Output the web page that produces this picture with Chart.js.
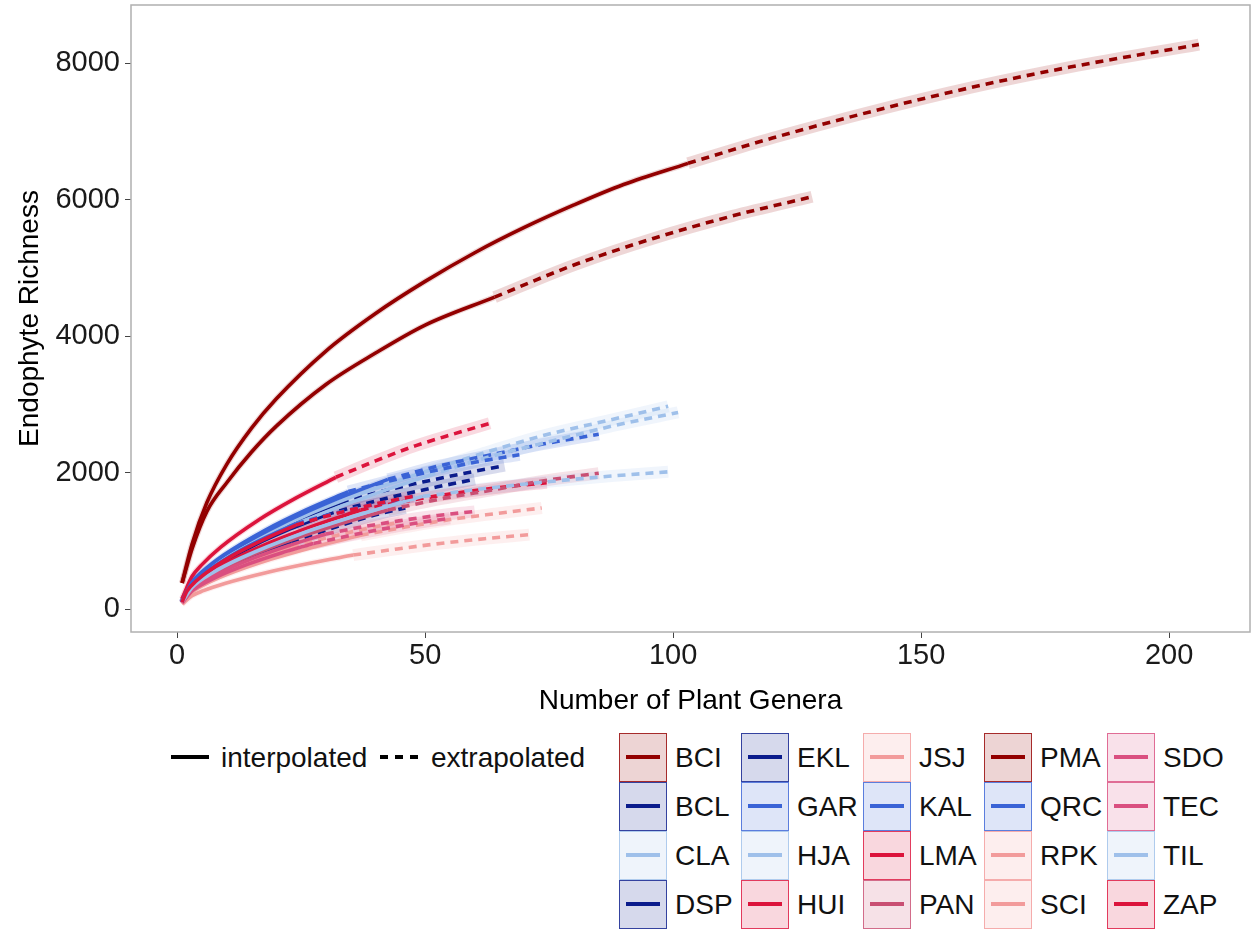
<!DOCTYPE html>
<html>
<head>
<meta charset="utf-8">
<script src="https://cdn.jsdelivr.net/npm/chart.js@4.4.1/dist/chart.umd.min.js"></script>
<style>
html,body{margin:0;padding:0;background:#fff;}
#wrap{position:relative;width:1252px;height:930px;overflow:hidden;font-family:"Liberation Sans",Arial,Helvetica,sans-serif;color:#000;}
#c{position:absolute;left:0;top:0;}
.lg{position:absolute;font-size:28px;line-height:30px;white-space:nowrap;color:#111;}
.box{position:absolute;box-sizing:border-box;width:48px;height:49px;border:1.5px solid;}
.box i{position:absolute;left:6px;right:6px;top:21px;height:3.5px;display:block;}
.seg{position:absolute;height:4px;background:#000;}
</style>
</head>
<body>
<div id="wrap">
<canvas id="c" width="1252" height="722"></canvas>
<div id="legend"></div>
</div>
<script>
// ---------------- data ----------------
const siteNames = ['BCI','BCL','CLA','DSP','EKL','GAR','HJA','HUI','JSJ','KAL','LMA','PAN','PMA','QRC','RPK','SCI','SDO','TEC','TIL','ZAP'];
const siteColors = ['#930000','#0B1C8C','#9FC0EA','#0B1C8C','#0B1C8C','#3A63D6','#9FC0EA','#DC143C','#F29B9B','#3A63D6','#DC143C','#C94F73','#930000','#3A63D6','#F29B9B','#F29B9B','#DA4F80','#DA4F80','#9FC0EA','#DC143C'];
const xTicks = [0, 50, 100, 150, 200];
const yTicks = [0, 2000, 4000, 6000, 8000];
const lineTypes = ['interpolated', 'extrapolated'];

// interpolated (ix, iy) and extrapolated (ex, ey) segments per site
const BCI_ix = [1, 3, 6, 10, 15, 20, 30, 40, 50, 60, 70, 80, 90, 103];
const BCI_iy = [380, 950, 1560, 2120, 2650, 3080, 3780, 4330, 4800, 5220, 5590, 5920, 6220, 6530];
const BCI_ex = [103, 120, 140, 160, 180, 206];
const BCI_ey = [6530, 6900, 7290, 7640, 7940, 8270];

const PMA_ix = [1, 3, 6, 10, 15, 20, 30, 40, 50, 64];
const PMA_iy = [380, 880, 1430, 1850, 2300, 2680, 3290, 3750, 4160, 4570];
const PMA_ex = [64, 80, 96, 112, 128];
const PMA_ey = [4570, 5040, 5430, 5760, 6040];

const CLA_ix = [1, 3, 7, 13, 25, 37, 49.5];
const CLA_iy = [110, 371, 630, 910, 1340, 1690, 2000];
const CLA_ex = [49.5, 62, 74, 87, 99];
const CLA_ey = [2000, 2290, 2545, 2765, 2970];

const HJA_ix = [1, 3, 7, 13, 25.8, 38, 50.5];
const HJA_iy = [100, 352, 605, 877, 1300, 1640, 1950];
const HJA_ex = [50.5, 63, 76, 88, 101];
const HJA_ey = [1950, 2230, 2470, 2685, 2880];

const TIL_ix = [1, 3, 7, 13, 25, 37, 49.5];
const TIL_iy = [100, 314, 525, 751, 1103, 1388, 1650];
const TIL_ex = [49.5, 62, 74, 87, 99];
const TIL_ey = [1650, 1765, 1860, 1945, 2010];

const GAR_ix = [1, 3, 6.2, 11.4, 21.8, 32, 42.5];
const GAR_iy = [110, 384, 604, 867, 1275, 1605, 1900];
const GAR_ex = [42.5, 53, 64, 74, 85];
const GAR_ey = [1900, 2100, 2270, 2420, 2560];

const KAL_ix = [1, 3, 5.2, 9.4, 17.8, 26, 34.5];
const KAL_iy = [110, 390, 554, 791, 1158, 1453, 1720];
const KAL_ex = [34.5, 43, 52, 60, 69];
const KAL_ey = [1720, 1880, 2030, 2150, 2260];

const QRC_ix = [1, 2, 3.9, 6.8, 12.5, 18.3, 24];
const QRC_iy = [100, 264, 419, 589, 849, 1064, 1250];
const QRC_ex = [24, 30, 36, 42, 48];
const QRC_ey = [1250, 1370, 1475, 1565, 1650];

const BCL_ix = [1, 3, 5, 9, 17, 25, 33];
const BCL_iy = [100, 361, 503, 718, 1050, 1322, 1560];
const BCL_ex = [33, 41, 49.5, 58, 66];
const BCL_ey = [1560, 1720, 1860, 1990, 2100];

const DSP_ix = [1, 3, 4.6, 8.3, 15.5, 22.8, 30];
const DSP_iy = [100, 343, 451, 644, 933, 1173, 1380];
const DSP_ex = [30, 37.5, 45, 52.5, 60];
const DSP_ey = [1380, 1535, 1670, 1790, 1900];

const EKL_ix = [1, 2, 3.8, 6.5, 12, 17.5, 23];
const EKL_iy = [90, 221, 337, 466, 669, 835, 980];
const EKL_ex = [23, 29, 34.5, 40, 46];
const EKL_ey = [980, 1130, 1260, 1380, 1480];

const HUI_ix = [1, 3, 4.9, 8.8, 16.5, 24, 32];
const HUI_iy = [150, 476, 643, 907, 1309, 1629, 1930];
const HUI_ex = [32, 40, 48, 56, 63];
const HUI_ey = [1930, 2170, 2390, 2570, 2720];

const LMA_ix = [1, 3, 5.5, 10, 19, 28, 37];
const LMA_iy = [110, 334, 480, 677, 982, 1232, 1450];
const LMA_ex = [37, 46, 55.5, 65, 74.5];
const LMA_ey = [1450, 1580, 1690, 1780, 1850];

const ZAP_ix = [1, 2, 3.9, 6.8, 12.5, 18.3, 24];
const ZAP_iy = [100, 262, 413, 580, 836, 1047, 1230];
const ZAP_ex = [24, 30, 36, 42, 47.5];
const ZAP_ey = [1230, 1360, 1470, 1570, 1650];

const PAN_ix = [1, 3, 6.2, 11.4, 21.8, 32, 42.5];
const PAN_iy = [100, 307, 473, 671, 979, 1227, 1450];
const PAN_ex = [42.5, 53, 64, 74, 85];
const PAN_ey = [1450, 1610, 1750, 1880, 1990];

const SDO_ix = [1, 3, 4.3, 7.6, 14.3, 21, 27.5];
const SDO_iy = [90, 265, 329, 457, 657, 821, 960];
const SDO_ex = [27.5, 34.4, 41.3, 48, 55];
const SDO_ey = [960, 1070, 1170, 1255, 1330];

const TEC_ix = [1, 3, 4.6, 8.3, 15.5, 22.8, 30];
const TEC_iy = [90, 282, 367, 519, 748, 936, 1100];
const TEC_ex = [30, 37.5, 45, 52.5, 60];
const TEC_ey = [1100, 1205, 1295, 1370, 1430];

const JSJ_ix = [1, 3, 5.3, 9.6, 18.3, 27, 35.5];
const JSJ_iy = [70, 193, 269, 374, 539, 674, 790];
const JSJ_ex = [35.5, 44.4, 53, 62, 71];
const JSJ_ey = [790, 880, 960, 1030, 1090];

const RPK_ix = [1, 3, 5.5, 10, 19, 28, 37];
const RPK_iy = [80, 247, 356, 503, 731, 917, 1080];
const RPK_ex = [37, 46, 55, 64.5, 73.5];
const RPK_ey = [1080, 1200, 1310, 1400, 1480];

const SCI_ix = [1, 2, 3.8, 6.5, 12, 17.5, 23];
const SCI_iy = [80, 201, 308, 427, 614, 766, 900];
const SCI_ex = [23, 28.5, 34, 39.5, 45];
const SCI_ey = [900, 1010, 1110, 1200, 1270];

// table built from the arrays above
const curves = {
  BCI: [BCI_ix, BCI_iy, BCI_ex, BCI_ey], BCL: [BCL_ix, BCL_iy, BCL_ex, BCL_ey],
  CLA: [CLA_ix, CLA_iy, CLA_ex, CLA_ey], DSP: [DSP_ix, DSP_iy, DSP_ex, DSP_ey],
  EKL: [EKL_ix, EKL_iy, EKL_ex, EKL_ey], GAR: [GAR_ix, GAR_iy, GAR_ex, GAR_ey],
  HJA: [HJA_ix, HJA_iy, HJA_ex, HJA_ey], HUI: [HUI_ix, HUI_iy, HUI_ex, HUI_ey],
  JSJ: [JSJ_ix, JSJ_iy, JSJ_ex, JSJ_ey], KAL: [KAL_ix, KAL_iy, KAL_ex, KAL_ey],
  LMA: [LMA_ix, LMA_iy, LMA_ex, LMA_ey], PAN: [PAN_ix, PAN_iy, PAN_ex, PAN_ey],
  PMA: [PMA_ix, PMA_iy, PMA_ex, PMA_ey], QRC: [QRC_ix, QRC_iy, QRC_ex, QRC_ey],
  RPK: [RPK_ix, RPK_iy, RPK_ex, RPK_ey], SCI: [SCI_ix, SCI_iy, SCI_ex, SCI_ey],
  SDO: [SDO_ix, SDO_iy, SDO_ex, SDO_ey], TEC: [TEC_ix, TEC_iy, TEC_ex, TEC_ey],
  TIL: [TIL_ix, TIL_iy, TIL_ex, TIL_ey], ZAP: [ZAP_ix, ZAP_iy, ZAP_ex, ZAP_ey]
};

// ---------------- chart ----------------
const FONT = '"Liberation Sans", Arial, Helvetica, sans-serif';
Chart.defaults.font.family = FONT;

function rgba(hex, a) {
  const n = parseInt(hex.slice(1), 16);
  return `rgba(${(n >> 16) & 255},${(n >> 8) & 255},${n & 255},${a})`;
}
const pts = (xs, ys) => xs.map((x, j) => ({ x: x, y: ys[j] }));

const datasets = [];
siteNames.forEach((s, i) => {
  const [ix, iy, ex, ey] = curves[s];
  const col = siteColors[i];
  const common = { pointRadius: 0, pointHoverRadius: 0, fill: false, cubicInterpolationMode: 'monotone', borderCapStyle: 'butt', borderJoinStyle: 'round' };
  datasets.push(Object.assign({ label: s + ' band ext', data: pts(ex, ey), borderColor: rgba(col, 0.16), borderWidth: 12, order: 300 - i }, common));
  datasets.push(Object.assign({ label: s + ' band int', data: pts(ix, iy), borderColor: rgba(col, 0.16), borderWidth: 6, order: 300 - i }, common));
  datasets.push(Object.assign({ label: s + ' ' + lineTypes[0], data: pts(ix, iy), borderColor: col, borderWidth: 3.6, order: 100 - i }, common));
  datasets.push(Object.assign({ label: s + ' ' + lineTypes[1], data: pts(ex, ey), borderColor: col, borderWidth: 3.6, borderDash: [8, 6], order: 100 - i }, common));
});

const panelBorder = {
  id: 'panelBorder',
  afterDatasetsDraw(chart) {
    const { ctx, chartArea: a } = chart;
    ctx.save();
    ctx.strokeStyle = '#b0b0b0';
    ctx.lineWidth = 1.5;
    ctx.strokeRect(a.left, a.top, a.right - a.left, a.bottom - a.top);
    ctx.restore();
  }
};

const zeroPad = s => { s.paddingTop = 0; s.paddingBottom = 0; s.paddingLeft = 0; s.paddingRight = 0; };

new Chart(document.getElementById('c'), {
  type: 'line',
  data: { datasets: datasets },
  plugins: [panelBorder],
  options: {
    responsive: false,
    animation: false,
    devicePixelRatio: 1,
    layout: { padding: { left: 0, top: 5, right: 2, bottom: 0 } },
    plugins: { legend: { display: false }, tooltip: { enabled: false } },
    scales: {
      x: {
        type: 'linear', min: -9.3, max: 216.3,
        afterBuildTicks: s => { s.ticks = xTicks.map(v => ({ value: v })); },
        afterFit: s => { s.height = 90; zeroPad(s); },
        ticks: { font: { size: 29, family: FONT }, color: '#1a1a1a', padding: 1, maxRotation: 0, autoSkip: false, callback: v => String(v) },
        grid: { drawOnChartArea: false, drawTicks: true, tickLength: 6, tickColor: '#444', color: '#444' },
        border: { display: false },
        title: { display: true, text: 'Number of Plant Genera', color: '#000', font: { size: 28, family: FONT }, padding: { top: 0, bottom: 4 } }
      },
      y: {
        type: 'linear', min: -337, max: 8850,
        afterBuildTicks: s => { s.ticks = yTicks.map(v => ({ value: v })); },
        afterFit: s => { s.width = 131; zeroPad(s); },
        ticks: { font: { size: 29, family: FONT }, color: '#1a1a1a', padding: 5, autoSkip: false, callback: v => String(v) },
        grid: { drawOnChartArea: false, drawTicks: true, tickLength: 6, tickColor: '#444', color: '#444' },
        border: { display: false },
        title: { display: true, text: 'Endophyte Richness', color: '#000', font: { size: 28, family: FONT }, padding: { top: 13, bottom: 0 } }
      }
    }
  }
});

// ---------------- legends (HTML text) ----------------
const lg = document.getElementById('legend');
function add(html) { lg.insertAdjacentHTML('beforeend', html); }

add(`<div class="seg" style="left:171px;top:755px;width:38px;"></div>`);
add(`<div class="lg" style="left:221px;top:743px;">${lineTypes[0]}</div>`);
[380, 395, 410].forEach(x => add(`<div class="seg" style="left:${x}px;top:755px;width:8px;"></div>`));
add(`<div class="lg" style="left:431px;top:743px;">${lineTypes[1]}</div>`);

const colX = [619, 741, 863, 984, 1107];
const rowY = [733, 782, 831, 880];
siteNames.forEach((s, i) => {
  const c = Math.floor(i / 4), r = i % 4;
  const col = siteColors[i];
  add(`<div class="box" style="left:${colX[c]}px;top:${rowY[r]}px;background:${rgba(col, 0.17)};border-color:${rgba(col, 0.8)}"><i style="background:${col}"></i></div>`);
  add(`<div class="lg" style="left:${colX[c] + 56}px;top:${rowY[r] + 10}px;">${s}</div>`);
});
</script>
</body>
</html>
